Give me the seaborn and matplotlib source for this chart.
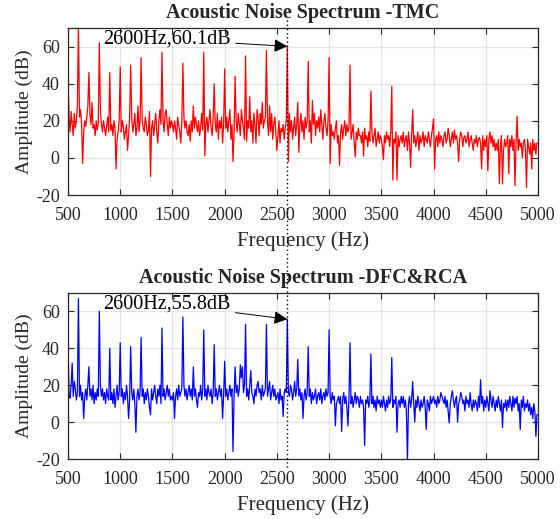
import numpy as np
import pandas as pd
import matplotlib
matplotlib.use("Agg")
import matplotlib.pyplot as plt
import matplotlib.transforms as mtransforms
from matplotlib.lines import Line2D
import seaborn as sns

# ---------------- data ----------------
freq_start = 500   # Hz
freq_step = 10     # Hz

tmc_db = [
    42, 22, 14, 25, 18, 12, 24, 16, 20, 28,
    72, 22, 26, 18, -3, 14, 20, 17, 22, 28,
    46, 24, 18, 30, 16, 18, 12, 20, 15, 19,
    62, 26, 18, 14, 20, 16, 12, 17, 22, 14,
    46, 15, 18, 12, 20, 16, -6, 10, 14, 20,
    49, 14, 20, 17, 10, 14, 18, 4, 12, 22,
    50, 22, 14, 18, 24, 12, 16, 28, 14, 20,
    54, 20, 16, 14, 22, 18, 12, 15, 25, -10,
    16, 20, 12, 18, 24, 14, 8, 20, 26, 18,
    57, 20, 14, 24, 26, 18, 12, 22, 16, 20,
    18, 14, 20, 16, 10, 22, 18, 14, 8, 20,
    51, 22, 16, 20, 14, 12, 18, 9, 20, 14,
    28, 16, 22, 18, 14, 20, 12, 16, 24, 15,
    57, 1, 18, 22, 14, 20, 26, 16, 12, 22,
    40, 18, 14, 24, 10, 20, 16, 22, 8, 18,
    48, 16, 22, 14, 20, 26, 10, 18, -2, 14,
    44, 20, 14, 24, 18, 12, 26, 20, 16, 10,
    55, 9, 20, 16, 33, 14, 20, 8, 24, 18,
    8, 26, 22, 12, 24, 18, 30, 16, 20, 22,
    58, 20, 12, 28, 14, 24, 10, 18, 22, 14,
    4, 12, 20, 8, 16, 14, 18, 10, 16, 20,
    60.1, -2, 24, 14, 20, 10, 16, 22, 12, 18,
    30, 3, 18, 24, 14, 20, 10, 22, 16, 20,
    52, 14, 20, 8, 31, 18, 24, 12, 20, 16,
    22, 14, 26, 18, 10, 20, 24, 16, 12, 20,
    54, -3, 18, 12, 14, 10, 16, 20, 8, 12,
    -4, 14, 18, 10, 16, 20, 12, 18, 14, 16,
    50, 10, 14, 18, 8, 0.5, 14, 10, 16, 12,
    12, 8, 14, 1, 16, 10, 12, 6, 14, 9,
    36, 14, 8, 12, 16, 6, 10, 14, 8, 12,
    10, 6, -1, 12, 8, 14, 10, 12, 6, 14,
    38.6, -12, 10, 8, 14, -12, 12, 6, 10, 12,
    8, 14, 6, 10, 12, 4, 14, 8, -5, 12,
    26, 8, 12, 6, 10, 14, 4, 12, 8, 10,
    14, 6, 12, 10, 8, 14, 10, 6, 12, 16,
    21, -6, 10, 12, 6, 14, 8, 12, 10, 6,
    12, 14, 8, 10, 16, 12, 6, 10, 14, 8,
    15, 10, 12, 8, -2, 10, 14, 12, 6, 11,
    12, 8, 10, 14, 6, 10, 12, 8, 4, 10,
    8, 12, 6, 10, 11, 8, -6, 12, 4, 10,
    6, 12, -7, 10, 14, 8, 12, 6, 10, 4,
    8, 4, 10, -14, 6, 12, -14, 4, 10, 6,
    8, 12, -8.5, 10, 6, 12, 4, 10, -15, 8,
    22.5, 4, 10, 6, 8, 0, 8, 10, 4, -16,
    10, 6, 2, 8, -6, 10, 4, 8, 2, 8,
    8,
]

dfc_db = [
    44, 14, 13, 20, 32, 14, 22, 18, 12, 16,
    67, 14, 20, 12, 16, 2, 14, 18, 12, 20,
    30, 14, 18, 12, 20, 10, 16, 12, 18, 14,
    60, 20, 14, 18, 12, 16, 10, 18, 14, 12,
    40, 12, 16, 10, 18, 8, 14, 20, 12, 16,
    43, 14, 18, 10, 16, 12, 20, 14, 2, 12,
    41, 16, 12, 18, 10, -5.5, 14, 18, 12, 16,
    46, 14, 18, 10, 16, 12, 18, 14, 8, 4,
    18, 12, 16, 20, 14, 10, 18, 14, 20, 10,
    51, 14, 18, 12, 16, 20, 14, 18, 12, 14,
    12, 16, 2, 14, 18, 12, 20, 14, 16, 18,
    57, 20, 14, 18, 12, 16, 20, 14, 18, 12,
    30, 14, 18, 12, 8, 16, 14, 20, 12, 18,
    50, 14, 18, 12, 20, 16, 14, 18, 10, 16,
    42, 14, 18, 12, 16, 20, 14, 18, 2, 14,
    33, 14, 18, 12, 16, 20, 14, 18, -16, 14,
    30, 16, 20, 14, 18, 31, 24, 30, 16, 20,
    53, 14, 18, 12, 20, 28, 16, 14, 10, 18,
    14, 20, 22, 16, 18, 12, 20, 14, 16, 18,
    53, 14, 18, 22, 12, 16, 20, 14, 18, 12,
    14, 16, 10, 18, 12, 14, 3, 16, 18, 16,
    55.8, 16, 14, 20, 18, 12, 16, 22, 14, 18,
    34, 14, 18, 12, 16, 2, 14, 18, 12, 16,
    41, 14, 18, 10, 16, 12, 14, 18, 10, 14,
    16, 12, 18, 10, 14, 16, 12, 18, 14, 16,
    50, 14, 10, 16, 12, 14, -2, 10, 12, 14,
    10, 14, -5, 12, 16, 10, 14, 8, -2, 12,
    43, 10, 14, 8, 12, 16, 10, 14, 12, 8,
    14, 10, 12, 8, -12.7, 12, 10, 14, 8, 12,
    37, 10, 14, 8, 12, 6, 14, 10, 12, 8,
    12, 8, 14, 10, 6, 12, 8, 14, 10, 12,
    35, 8, 12, 10, 14, -5.5, 10, 12, 8, 14,
    10, 14, 8, 12, 6, -21, 10, 14, 8, 12,
    22, 10, 0, 12, 8, 14, 10, 6, 12, 8,
    10, 14, 8, -4, 12, 10, 6, 14, 10, 12,
    14, 10, 12, 8, 14, 10, 12, 16, 14, 12,
    10, 14, 8, 12, 6, -0.5, 10, 14, 17, 12,
    8, 12, 14, 0, 10, 12, 16, 14, 10, 12,
    6, 14, 10, 12, 8, 16, 10, 6, 12, 8,
    12, 10, 6, 14, 8, 23, 10, 14, 6, 12,
    8, 14, 10, 6, 17, 12, 8, 14, 10, 6,
    12, 8, 14, 10, 6, 12, -3, 10, 8, 12,
    6, 12, 8, 14, 10, 6, 14, 8, 13, 10,
    14, 6, 10, -4, 12, 8, 14, 6, 10, 8,
    12, 6, 10, 4, 8, 2, 10, 6, -7.7, 4,
    4,
]

titles = ["Acoustic Noise Spectrum -TMC", "Acoustic Noise Spectrum -DFC&RCA"]
annot_texts = ["2600Hz,60.1dB", "2600Hz,55.8dB"]
peak_freq = 2600
peak_vals = [60.1, 55.8]
xticks = [500, 1000, 1500, 2000, 2500, 3000, 3500, 4000, 4500, 5000]
yticks = [-20, 0, 20, 40, 60]
line_colors = ["#ff0000", "#0000ff"]

# ---------------- style ----------------
sns.set_style("ticks")
plt.rcParams["font.family"] = ["Liberation Serif", "DejaVu Serif"]
plt.rcParams["axes.unicode_minus"] = False

fig = plt.figure(figsize=(5.6, 5.19), dpi=100)
W, H = 560.0, 519.0
ax1 = fig.add_axes([68 / W, 1 - 195 / H, 470 / W, 167 / H])
ax2 = fig.add_axes([68 / W, 1 - 459 / H, 470 / W, 166 / H])

series = [tmc_db, dfc_db]
for i, ax in enumerate([ax1, ax2]):
    vals = series[i]
    df = pd.DataFrame({
        "Frequency": freq_start + freq_step * np.arange(len(vals)),
        "Amplitude": vals,
    })
    ax.set_axisbelow(True)
    ax.grid(True, color="#e3e3e3", linewidth=0.9)
    sns.lineplot(data=df, x="Frequency", y="Amplitude", ax=ax,
                 color=line_colors[i], linewidth=0.9, estimator=None,
                 legend=False)
    ax.set_xlim(500, 5000)
    ax.set_ylim(-20, 70)
    ax.set_xticks(xticks)
    ax.set_yticks(yticks)
    ax.tick_params(direction="in", top=True, right=True, length=4,
                   width=0.8, labelsize=13, colors="#262626",
                   labelcolor="#262626")
    ax.tick_params(axis="x", pad=9)
    ax.tick_params(axis="y", pad=6)
    for s in ax.spines.values():
        s.set_color("#262626")
        s.set_linewidth(0.9)
        s.set_visible(True)
    ax.set_xlabel("Frequency (Hz)", fontsize=15, color="#262626", labelpad=5)
    ax.set_ylabel("Amplitude (dB)", fontsize=14, color="#262626", labelpad=2)
    ax.set_title(titles[i], fontsize=14.5, fontweight="bold", pad=7)
    ax.annotate(annot_texts[i], xy=(peak_freq, peak_vals[i]),
                xytext=(838, 64), ha="left", va="center", fontsize=14.5,
                color="black",
                arrowprops=dict(arrowstyle="-|>", color="black", lw=0.7,
                                mutation_scale=20, shrinkA=1, shrinkB=0))

# figure-level dotted line through 2600 Hz
trans = mtransforms.blended_transform_factory(ax1.transData, fig.transFigure)
fig.add_artist(Line2D([peak_freq, peak_freq], [1 - 20 / H, 1 - 470 / H],
                      transform=trans, color="black", linestyle=(0, (1, 2)),
                      linewidth=1.0))

fig.savefig("out.png", dpi=100)
